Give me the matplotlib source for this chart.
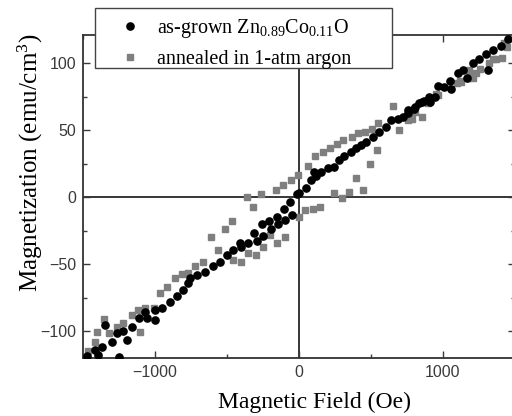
import matplotlib
matplotlib.use("Agg")
import matplotlib.pyplot as plt
from matplotlib.patches import Rectangle
from matplotlib.ticker import MultipleLocator

# magnetization loops, field in Oe and magnetization in emu/cm^3
grown_field = [1449, 1403, 1345, 1299, 1310, 1250, 1206, 1167, 1137, 1102,
               1056, 1049, 1006, 963, 944, 910, 903, 868, 852, 833,
               806, 799, 757, 755, 720, 688, 639, 604, 556, 512,
               465, 431, 396, 361, 313, 278, 243, 199, 153, 118,
               104, 83, 49, 0, -16, -62, -51, -104, -97, -155,
               -146, -208, -197, -259, -250, -294, -312, -354, -410, -400,
               -458, -502, -549, -597, -653, -711, -757, -771, -806, -849,
               -896, -953, -1000, -1000, -1058, -1069, -1111, -1162, -1197, -1222,
               -1266, -1301, -1347, -1370, -1396, -1417, -1474, -1248]
grown_mag = [118, 113, 110, 107, 95, 103, 100, 89, 95, 92.5,
             81, 87, 82, 83, 75, 71, 75, 72, 71, 70,
             67, 66, 65, 62.5, 60, 58, 57.5, 52, 48.5, 45,
             41, 39, 36.5, 34, 31, 27.6, 22.4, 22, 19, 16,
             19, 12.7, 6.7, 3, 2, -3.5, -13.4, -9, -17, -14.7,
             -20, -18, -24, -20, -29, -32.6, -26.6, -34.5, -34, -37,
             -39.6, -43, -48, -51.5, -55.7, -58, -60, -64, -69, -74,
             -78, -83, -84, -92, -90, -85.6, -90, -96.8, -106.7, -100,
             -101.5, -108, -95.5, -111.7, -118, -114, -118.6, -119]

annealed_field = [1442, 1425, 1408, 1368, 1347, 1320, 1257, 1229, 1208, 1188,
                  1181, 1171, 1125, 1118, 1095, 965, 951, 896, 852, 806,
                  783, 755, 694, 653, 549, 505, 458, 410, 366, 306,
                  262, 215, 167, 111, 63, -9, -55, -113, -160, -264,
                  -363, 541, 493, 442, 394, 347, 296, 243, 146, 97,
                  42, 0, -97, -153, -201, -250, -299, -319, -354, -403,
                  -458, -563, -467, -514, -613, -669, -722, -771, -815, -861,
                  -917, -965, -1007, -1069, -1104, -1118, -1162, -1222, -1266, -1319,
                  -1354, -1405, -1417, -1465]
annealed_mag = [112, 115, 104, 103, 103, 100, 96, 93, 89, 92.5,
                95, 89, 86, 87, 85, 76, 77, 70, 60, 63.4,
                58, 57.5, 50, 68, 55, 51, 48.5, 47.8, 45, 43,
                40, 37, 34, 30.6, 23, 16.4, 12.7, 9, 5, 2.5,
                0, 35, 25, 5, 14, 3.7, -0.7, 2.9, -7, -9,
                -9.7, -15, -29.6, -34, -28, -37, -43, -7, -42, -48,
                -47, -39.6, -18, -24, -29.6, -48, -51, -56.5, -57, -60,
                -67, -71.6, -83, -83, -100.5, -84, -88, -94, -96.8, -101.5,
                -91, -100.5, -108, -115]

plt.rcParams["mathtext.fontset"] = "custom"
plt.rcParams["mathtext.rm"] = "Liberation Serif"
plt.rcParams["mathtext.it"] = "Liberation Serif:italic"

W, H = 512, 416
fig = plt.figure(figsize=(W / 100, H / 100), dpi=100)
ax = fig.add_axes([83 / W, 58 / H, 432 / W, 323 / H])

# zero lines through the origin
ax.axhline(0, color="black", lw=1.1, zorder=1)
ax.axvline(0, color="black", lw=1.1, zorder=1)

ax.plot(annealed_field, annealed_mag, ls="none", marker="s", ms=4.6,
        color="#7f7f7f", mec="#7f7f7f", label="annealed in 1-atm argon", zorder=2)
ax.plot(grown_field, grown_mag, ls="none", marker="o", ms=5.2,
        color="black", label=r"as-grown Zn$_{0.89}$Co$_{0.11}$O", zorder=3)

ax.set_xlim(-1500, 1500)
ax.set_ylim(-120, 121)
ax.xaxis.set_major_locator(MultipleLocator(1000))
ax.xaxis.set_minor_locator(MultipleLocator(500))
ax.yaxis.set_major_locator(MultipleLocator(50))
ax.yaxis.set_minor_locator(MultipleLocator(25))
ax.tick_params(which="both", direction="in", top=True, right=True,
               colors="#3a3a3a", labelsize=11.5, pad=5)
ax.tick_params(which="major", length=5, width=1)
ax.tick_params(which="minor", length=3, width=1)
for lab in ax.get_xticklabels() + ax.get_yticklabels():
    lab.set_family("Liberation Sans")
for sp in ax.spines.values():
    sp.set_color("#333333")
    sp.set_linewidth(1.3)

ax.set_xlabel("Magnetic Field (Oe)", family="Liberation Serif", fontsize=17)
ax.xaxis.set_label_coords((315 - 83) / 432, (358 - 392) / 323)
ax.set_ylabel(r"Magnetization (emu/cm$^3$)", family="Liberation Serif",
              fontsize=18)
ax.yaxis.set_label_coords((45 - 83) / 432, (358 - 163) / 323)

# legend box sits over the top of the frame
fig.add_artist(Rectangle((95 / W, 1 - 68 / H), 297 / W, 60 / H,
                         transform=fig.transFigure, facecolor="white",
                         edgecolor="#444444", lw=1.0, zorder=9))
handles, labels = ax.get_legend_handles_labels()
leg = fig.legend(handles[::-1], labels[::-1], loc="upper left",
                 bbox_to_anchor=(120 / W, 1 - 17 / H),
                 bbox_transform=fig.transFigure, frameon=False, numpoints=1,
                 prop={"family": "Liberation Serif", "size": 14.5},
                 handlelength=1.0, handletextpad=0.85, borderpad=0,
                 labelspacing=0.5, borderaxespad=0)
leg.set_zorder(10)

fig.savefig("out.png", dpi=100)
